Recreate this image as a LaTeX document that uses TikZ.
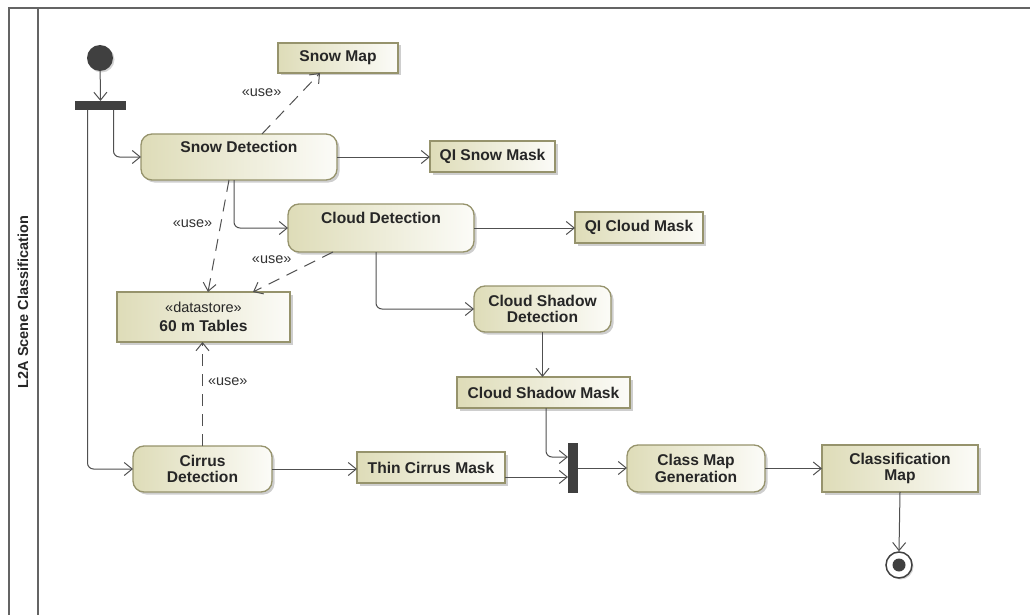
\documentclass[tikz,border=0pt]{standalone}
\usepackage{fontspec}
\setmainfont{Liberation Sans}
\usetikzlibrary{arrows.meta,shadows,calc}
\definecolor{ufill}{RGB}{222,220,184}
\definecolor{uborder}{RGB}{150,147,108}
\definecolor{uline}{RGB}{80,80,80}
\definecolor{ubar}{RGB}{64,64,64}
\definecolor{uframe}{RGB}{100,100,100}
\begin{document}
\begin{tikzpicture}[x=1pt,y=-1pt,
  base/.style={draw=uborder, line width=1.3pt, inner sep=0pt, outer sep=0pt,
    left color=ufill, right color=ufill!10,
    drop shadow={shadow xshift=2.5pt,shadow yshift=-2.5pt,opacity=0.35,fill=black!55},
    font=\fontsize{15.6}{16.8}\selectfont\bfseries, text=black!85, align=center, anchor=north west},
  act/.style={base, rounded corners=11pt},
  obj/.style={base},
  bar/.style={fill=ubar, draw=none, inner sep=0pt, outer sep=0pt, anchor=north west},
  flow/.style={draw=uline, line width=1pt, -{Straight Barb[length=8pt,width=13pt,line width=1pt]}},
  dep/.style={flow, dash pattern=on 12pt off 8pt},
  uselbl/.style={font=\fontsize{14.5}{16}\selectfont, text=black!80, inner sep=0pt}
]
\useasboundingbox (0,0) rectangle (1030,615);
% frame
\draw[uframe, line width=2pt] (9,615) -- (9,8) -- (1030,8);
\draw[uframe, line width=2pt] (38,8) -- (38,615);
\node[rotate=90, font=\fontsize{14.5}{16}\selectfont\bfseries, text=black!85] (lane) at (23,302) {L2A Scene Classification};

% control nodes
\node[circle, fill=ubar, minimum size=26pt, inner sep=0pt,
  drop shadow={shadow xshift=1.5pt,shadow yshift=-1.5pt,opacity=0.3,fill=black!55}] (init) at (100,58) {};
\node[bar, minimum width=51pt, minimum height=9pt] (fork) at (75,101) {};
\node[bar, minimum width=10pt, minimum height=50pt] (join) at (568,443) {};
\node[circle, draw=ubar, line width=1.5pt, fill=white, minimum size=26pt, inner sep=0pt,
  drop shadow={shadow xshift=1.5pt,shadow yshift=-1.5pt,opacity=0.3,fill=black!55}] (final) at (899,565) {};
\node[circle, fill=ubar, minimum size=13pt, inner sep=0pt] (finaldot) at (final) {};

% actions
\node[act, minimum width=196pt, minimum height=46pt] (snow) at (141,134) {Snow Detection\\[3pt]\mbox{}};
\node[act, minimum width=186pt, minimum height=48pt] (cloud) at (288,204) {Cloud Detection\\[4pt]\mbox{}};
\node[act, minimum width=137pt, minimum height=46pt] (shadow) at (474,286) {Cloud Shadow\\Detection};
\node[act, minimum width=139pt, minimum height=46pt] (cirrus) at (133,446) {Cirrus\\Detection};
\node[act, minimum width=138pt, minimum height=47pt] (classgen) at (627,445) {Class Map\\Generation};

% objects
\node[obj, minimum width=120pt, minimum height=30pt] (snowmap) at (278,43) {Snow Map};
\node[obj, minimum width=125pt, minimum height=31pt] (qisnow) at (430,141) {QI Snow Mask};
\node[obj, minimum width=128pt, minimum height=31pt] (qicloud) at (575,212) {QI Cloud Mask};
\node[obj, minimum width=173pt, minimum height=31pt] (shadowmask) at (457,377) {Cloud Shadow Mask};
\node[obj, minimum width=173pt, minimum height=50pt] (tables) at (117,292) {{\fontsize{14.5}{16}\selectfont\mdseries «datastore»}\\[2pt]60 m Tables};
\node[obj, minimum width=148pt, minimum height=31pt] (thin) at (357,452) {Thin Cirrus Mask};
\node[obj, minimum width=156pt, minimum height=47pt] (classmap) at (822,445) {Classification\\Map};

% control flows
\draw[flow] (init) -- (fork.north);
\draw[flow, rounded corners=6pt] ([xshift=13pt]fork.south) |- (snow.west);
\draw[flow, rounded corners=6pt] ([xshift=-13pt]fork.south) |- (cirrus.west);
\draw[flow] (snow.east) -- (snow.east -| qisnow.west);
\draw[flow, rounded corners=6pt] ([xshift=-5pt]snow.south) |- (cloud.west);
\draw[flow] (cloud.east) -- (cloud.east -| qicloud.west);
\draw[flow, rounded corners=6pt] ([xshift=-5pt]cloud.south) |- (shadow.west);
\draw[flow] (shadow.south) -- (shadow.south |- shadowmask.north);
\draw[flow, rounded corners=6pt] ([xshift=2.5pt]shadowmask.south) |- ([yshift=11pt]join.west);
\draw[flow] (cirrus.east) -- (cirrus.east -| thin.west);
\draw[flow] ([yshift=-9.5pt]thin.east) -- ([yshift=-9.5pt]thin.east -| join.west);
\draw[flow] (join.east) -- (join.east -| classgen.west);
\draw[flow] (classgen.east) -- (classgen.east -| classmap.west);
\draw[flow] (classmap.south) -- (final.north);

% use dependencies
\draw[dep] ([xshift=23pt]snow.north) -- node[uselbl, pos=0.67, left=19pt] (u1) {«use»} ([xshift=-18pt]snowmap.south);
\draw[dep] ([xshift=-10pt]snow.south) -- node[uselbl, pos=0.39, left=8pt] (u2) {«use»} ([xshift=4.5pt]tables.north);
\draw[dep] ([xshift=-48pt]cloud.south) -- node[uselbl, pos=0.2, left=25pt] (u3) {«use»} ([xshift=-37pt]tables.north east);
\draw[dep] (cirrus.north) -- node[uselbl, pos=0.62, right=5pt] (u4) {«use»} (cirrus.north |- tables.south);
\end{tikzpicture}
\end{document}
